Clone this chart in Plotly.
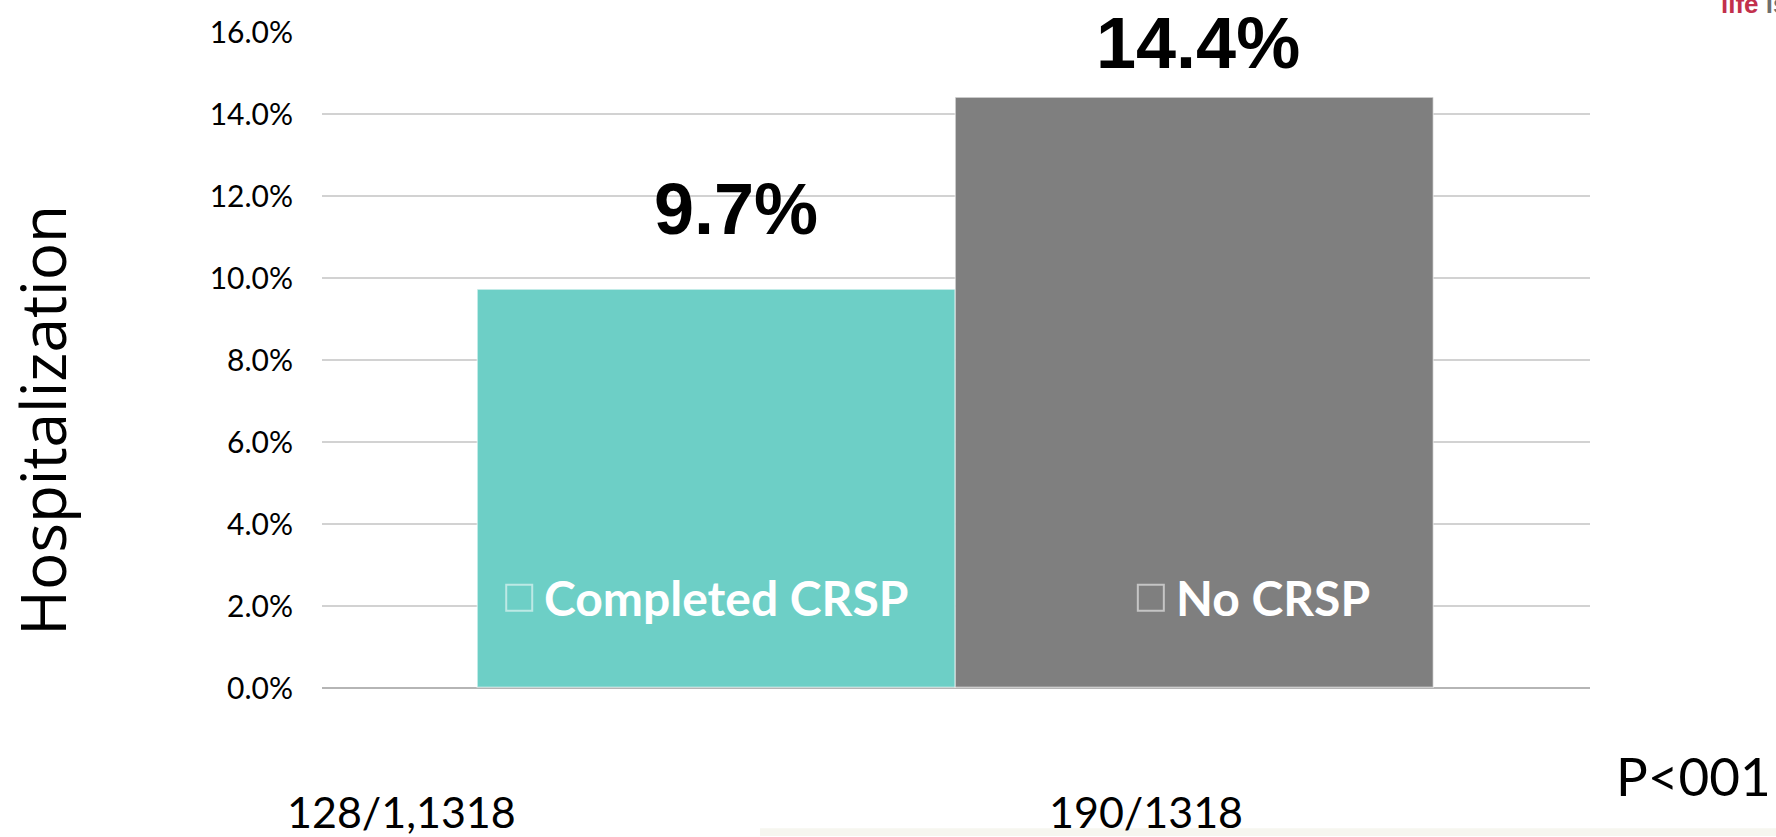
import plotly.graph_objects as go

# --- data -----------------------------------------------------------------
categories = ["Completed CRSP", "No CRSP"]
hosp_rate = [9.7, 14.4]                 # hospitalization, percent
counts = ["128/1,1318", "190/1318"]
p_value = "P<001"
y_title = "Hospitalization"
y_ticks = [0, 2, 4, 6, 8, 10, 12, 14, 16]

# --- styling ----------------------------------------------------------------
bar_colors = ["#6dcfc6", "#7f7f7f"]
W, H = 1776, 837
L, R, T, B = 322, 186, 28, 149
PLOT_W, PLOT_H = W - L - R, H - T - B
value_label_shift = [(19, 81), (3, 55)]  # (x, y) px offsets from each bar top
legend_x = [-0.44, 0.88]                 # legend entry start, in category units
legend_y = 2.2
count_label_px = [(401, 812), (1146, 812)]


def px_x(px):
    return (px - L) / PLOT_W


def px_y(py):
    return (H - B - py) / PLOT_H


fig = go.Figure()
for i, (cat, val) in enumerate(zip(categories, hosp_rate)):
    fig.add_trace(go.Bar(
        x=[i], y=[val], name=cat, width=1,
        marker=dict(color=bar_colors[i],
                    line=dict(color="rgba(255,255,255,0.45)", width=1.5)),
        showlegend=False, hoverinfo="skip",
    ))

annotations = []
shapes = []

# value labels above the bars
for i, val in enumerate(hosp_rate):
    annotations.append(dict(
        x=i, y=val, xref="x", yref="y", text=f"<b>{val:.1f}%</b>",
        showarrow=False, yanchor="middle", xanchor="center",
        xshift=value_label_shift[i][0], yshift=value_label_shift[i][1],
        font=dict(family="Liberation Sans, Arial, sans-serif", size=72, color="#000000"),
    ))

# legend entries drawn inside the bars
for i, cat in enumerate(categories):
    shapes.append(dict(
        type="rect", xref="x", yref="y",
        xsizemode="pixel", ysizemode="pixel",
        xanchor=legend_x[i], yanchor=legend_y,
        x0=0, x1=26, y0=-13, y1=13,
        line=dict(color="rgba(255,255,255,0.55)", width=2),
        fillcolor="rgba(0,0,0,0)",
    ))
    annotations.append(dict(
        x=legend_x[i], y=legend_y, xref="x", yref="y", text=f"<b>{cat}</b>",
        showarrow=False, xanchor="left", yanchor="middle", xshift=36,
        font=dict(family="Lato, sans-serif", size=48, color="#ffffff"),
    ))

# sample counts under the chart
for (cx, cy), txt in zip(count_label_px, counts):
    annotations.append(dict(
        x=px_x(cx), y=px_y(cy), xref="paper", yref="paper", text=txt,
        showarrow=False, xanchor="center", yanchor="middle",
        font=dict(family="Lato, sans-serif", size=43, color="#000000"),
    ))

# p-value
annotations.append(dict(
    x=px_x(1693), y=px_y(776), xref="paper", yref="paper", text=p_value,
    showarrow=False, xanchor="center", yanchor="middle",
    font=dict(family="Lato, sans-serif", size=53, color="#000000"),
))

# y-axis title
annotations.append(dict(
    x=px_x(42), y=px_y(419), xref="paper", yref="paper", text=y_title,
    showarrow=False, xanchor="center", yanchor="middle", textangle=-90,
    font=dict(family="Open Sans, sans-serif", size=62, color="#000000"),
))

# corner logo text, cut off by the top edge
annotations.append(dict(
    x=px_x(1719), y=px_y(17), xref="paper", yref="paper",
    text="<b><span style='color:#c2304c'>life</span> <span style='color:#6e6e6e'>is</span></b>",
    showarrow=False, xanchor="left", yanchor="bottom",
    font=dict(family="Liberation Sans, sans-serif", size=26),
))

# faint strip along the bottom edge
shapes.append(dict(
    type="rect", xref="paper", yref="paper",
    x0=px_x(760), x1=px_x(W), y0=px_y(H), y1=px_y(829),
    line=dict(width=0), fillcolor="#f6f6ef", layer="below",
))

fig.update_layout(
    width=W, height=H,
    margin=dict(l=L, r=R, t=T, b=B, pad=0),
    paper_bgcolor="#ffffff", plot_bgcolor="#ffffff",
    barmode="overlay", bargap=0,
    annotations=annotations, shapes=shapes,
    xaxis=dict(type="linear", range=[-0.825, 1.825], showticklabels=False,
               showgrid=False, zeroline=False, showline=False, ticks=""),
    yaxis=dict(range=[0, 16], tickvals=y_ticks,
               ticktext=[f"{v:.1f}%" for v in y_ticks],
               showgrid=True, gridcolor="#d2d2d2", gridwidth=1.5,
               zeroline=True, zerolinecolor="#b5b5b5", zerolinewidth=1.5,
               showline=False, ticks="", ticklabelstandoff=28,
               tickfont=dict(family="Lato, sans-serif", size=30, color="#000000")),
    font=dict(family="Lato, sans-serif"),
)

fig.write_html("out.html")
